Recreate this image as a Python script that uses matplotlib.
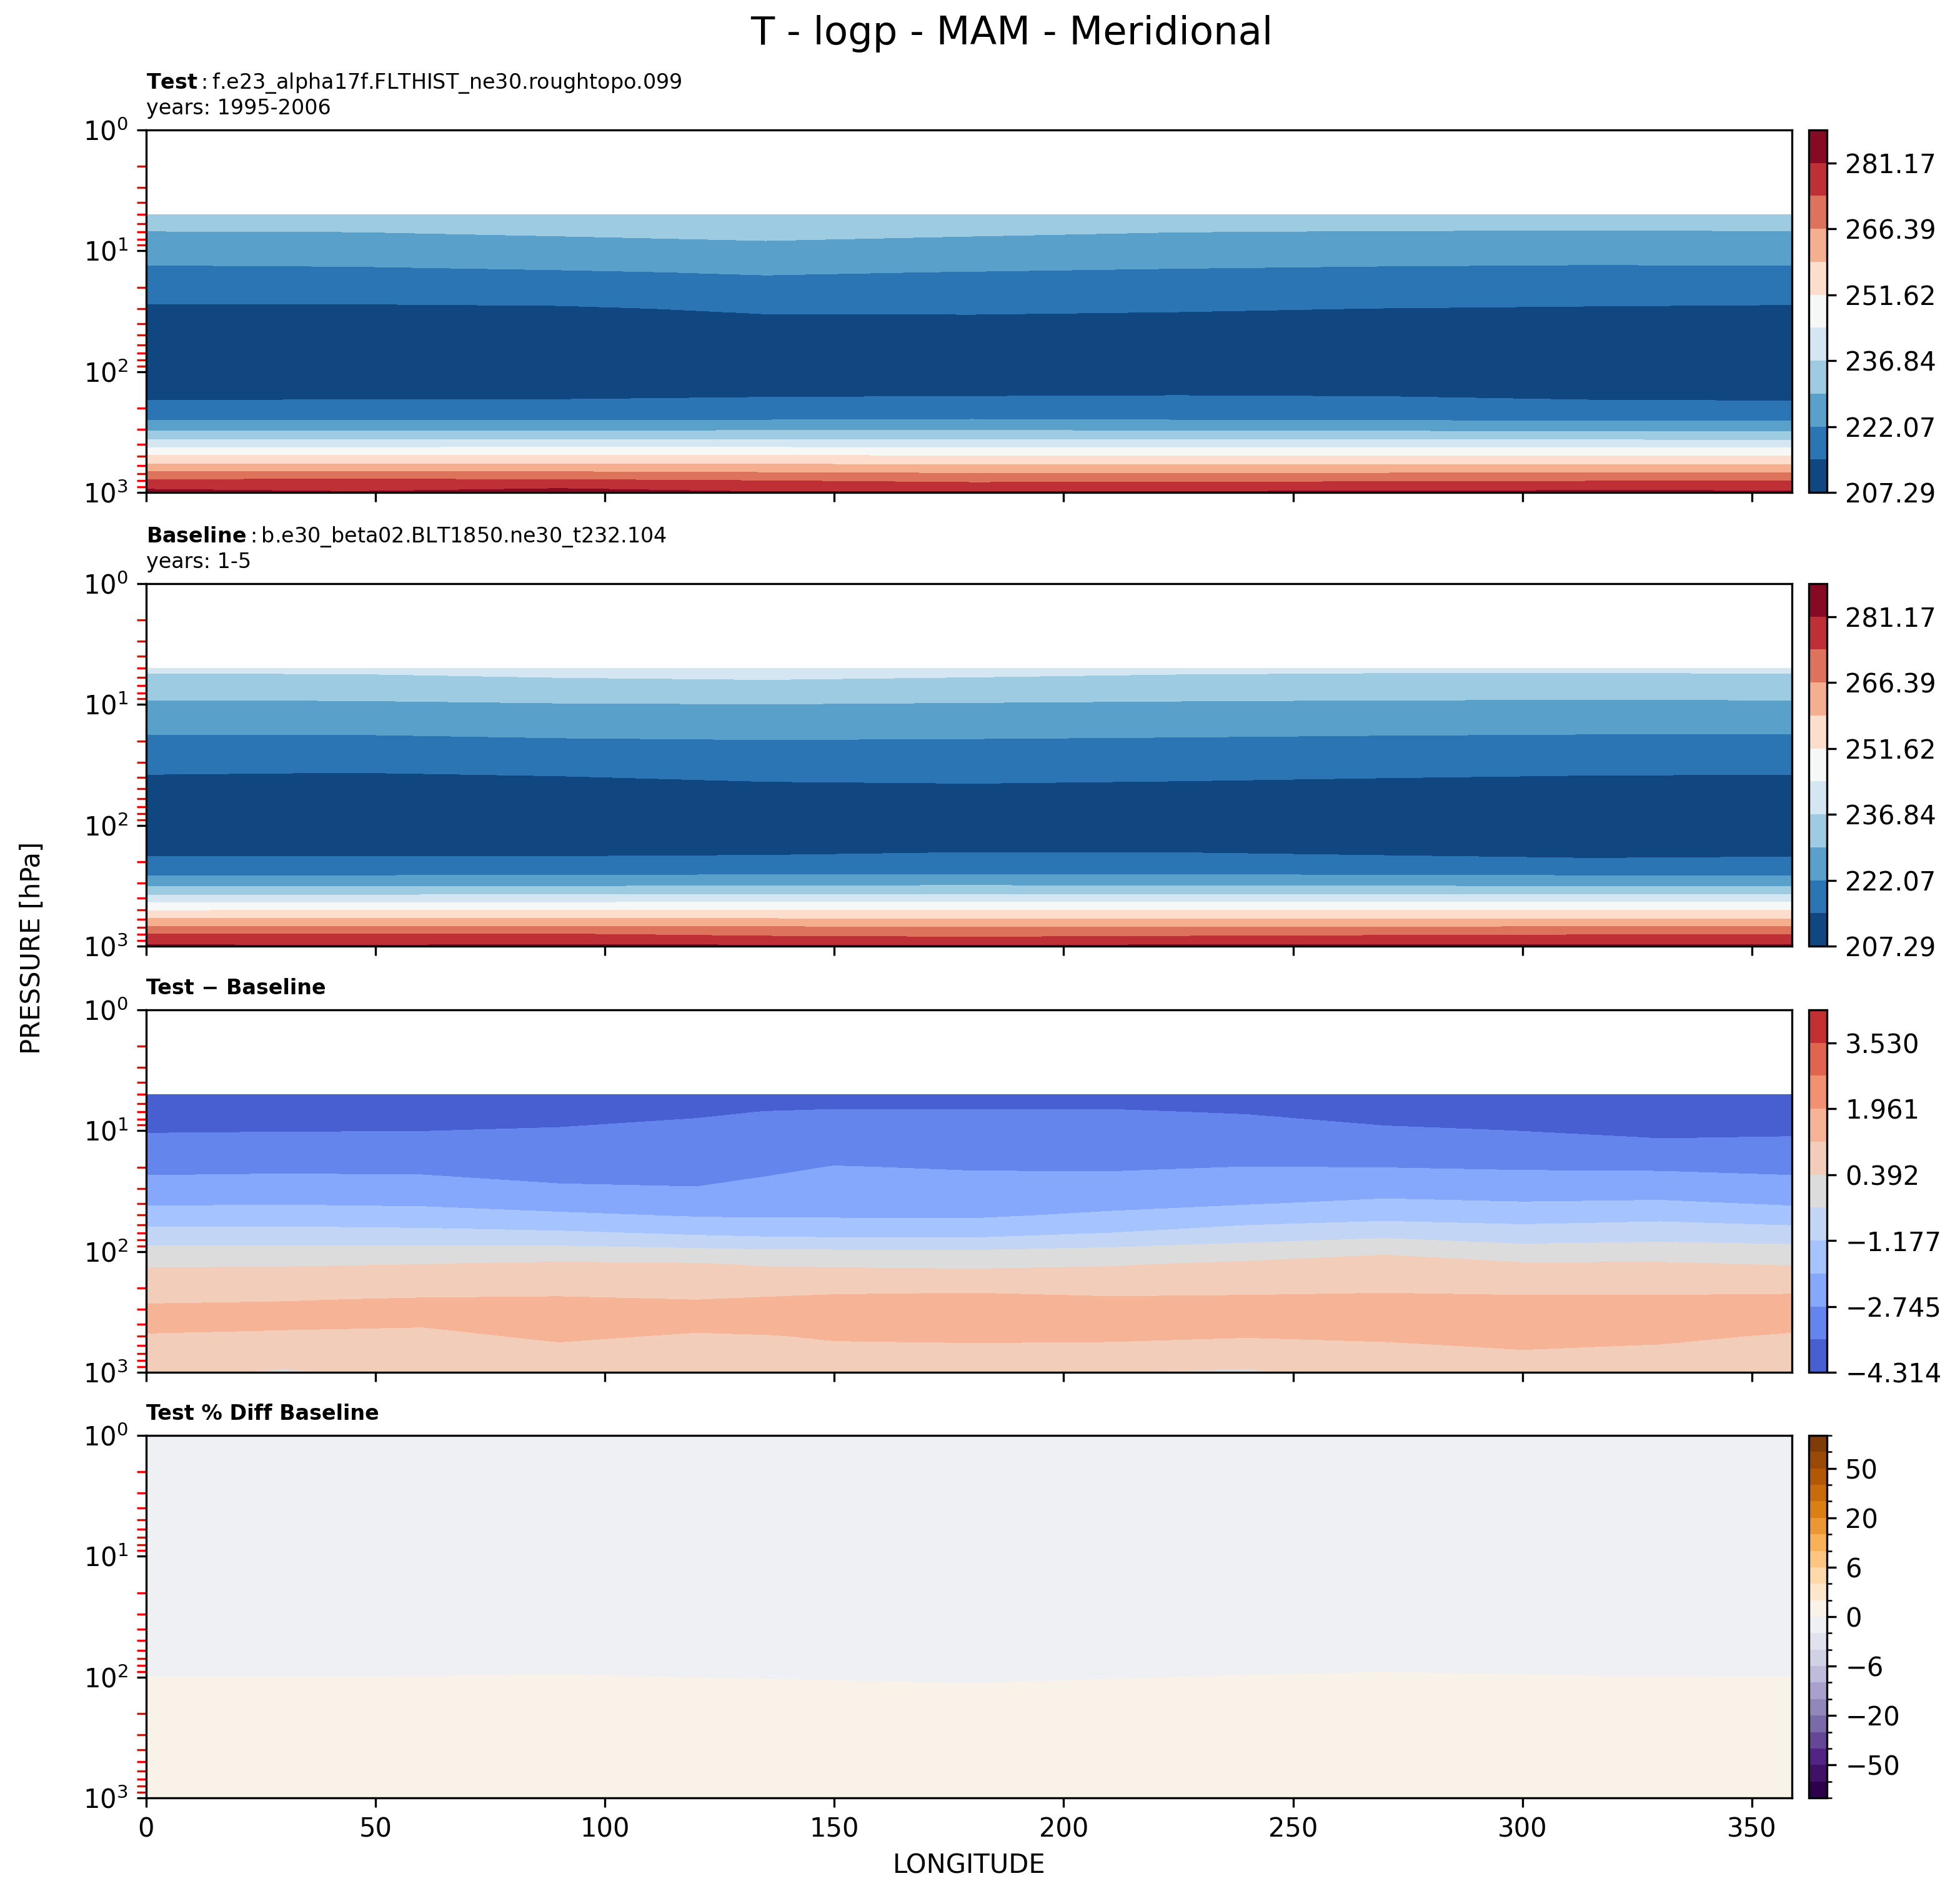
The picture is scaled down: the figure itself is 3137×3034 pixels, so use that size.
import numpy as np
import matplotlib
matplotlib.use("Agg")
import matplotlib.pyplot as plt
from matplotlib.colors import BoundaryNorm
from matplotlib.ticker import LogLocator, NullFormatter

# ---------------- data ----------------
# Temperature fields [K] on pressure levels (hPa) x longitude (deg)
p_t = [5, 7, 10, 15, 20, 30, 50, 70, 100, 150, 200, 250, 300, 350, 400, 450, 500, 600, 700, 800, 900, 1000]
lon_t = [0, 45, 90, 135, 180, 225, 270, 315, 358.75]

# one list per longitude column (values from top level to surface)
test_T_cols = [
    [233.3, 229.2, 224.9, 220.4, 217.65, 213.8, 210.8, 209.5, 209.3, 212.3, 217.5, 221.6, 228.2, 234.9, 241.4, 247.2, 252.4, 260.6, 268.6, 275.0, 280.4, 282.3],
    [233.4, 229.4, 225.2, 220.7, 217.7, 213.7, 210.8, 209.5, 209.3, 212.5, 217.7, 221.7, 228.2, 234.9, 241.4, 247.2, 252.4, 260.6, 268.6, 275.4, 280.2, 281.4],
    [234.1, 230.2, 226.15, 221.5, 218.3, 214.0, 211.0, 209.6, 209.4, 212.6, 217.8, 221.9, 228.3, 235.0, 241.4, 247.3, 252.5, 260.6, 268.5, 275.0, 280.6, 282.6],
    [234.8, 231.1, 227.1, 222.6, 219.6, 215.5, 210.5, 209.2, 209.5, 213.4, 218.3, 221.9, 228.5, 235.1, 241.5, 247.2, 252.3, 260.3, 267.6, 273.8, 279.0, 281.5],
    [233.9, 230.2, 226.3, 221.9, 219.35, 215.7, 210.0, 209.0, 209.3, 213.7, 218.5, 222.2, 228.6, 235.1, 241.3, 246.9, 251.9, 260.0, 266.8, 272.3, 277.8, 281.8],
    [233.2, 229.45, 225.5, 221.2, 218.7, 215.2, 210.0, 208.8, 209.0, 214.0, 218.4, 221.9, 228.3, 235.0, 241.2, 246.8, 251.9, 260.0, 266.9, 272.6, 278.0, 282.0],
    [233.0, 229.1, 224.95, 220.7, 218.2, 214.6, 210.3, 209.0, 209.2, 213.7, 218.2, 221.6, 228.0, 234.8, 241.1, 246.7, 251.9, 260.0, 267.0, 273.0, 278.4, 282.2],
    [233.05, 229.0, 224.7, 220.4, 217.9, 214.2, 210.7, 209.3, 209.2, 212.5, 217.5, 221.4, 227.6, 234.6, 241.0, 246.6, 251.9, 260.0, 267.2, 273.4, 279.0, 282.5],
    [233.1, 229.1, 224.9, 220.5, 217.7, 213.9, 210.8, 209.4, 209.2, 212.1, 217.3, 221.3, 227.45, 234.5, 240.9, 246.6, 251.9, 260.0, 267.3, 273.9, 279.5, 282.0],
]

base_T_cols = [
    [238.2, 233.05, 228.1, 223.6, 220.7, 216.9, 211.3, 209.8, 209.3, 211.3, 216.66, 220.84, 226.6, 233.3, 239.9, 245.9, 250.95, 259.84, 267.6, 274.4, 279.06, 282.0],
    [238.3, 233.2, 228.3, 223.7, 220.7, 216.6, 210.7, 209.6, 209.3, 211.3, 216.66, 220.84, 226.6, 233.3, 239.9, 246.0, 251.05, 259.84, 267.65, 274.5, 279.1, 281.6],
    [239.35, 234.25, 229.0, 224.5, 221.4, 217.3, 211.5, 209.9, 209.4, 211.4, 216.7, 221.0, 226.8, 233.4, 240.0, 246.1, 251.2, 259.8, 267.5, 274.3, 279.0, 282.3],
    [240.05, 234.8, 229.3, 224.9, 221.8, 218.1, 213.0, 210.2, 209.6, 211.8, 217.15, 221.3, 227.37, 233.9, 240.2, 246.15, 251.4, 259.66, 267.07, 272.33, 277.9, 282.0],
    [239.26, 234.07, 228.85, 224.55, 221.6, 218.16, 213.5, 210.2, 209.4, 212.98, 217.8, 221.54, 227.57, 234.0, 240.3, 246.2, 251.52, 259.57, 266.9, 271.6, 276.9, 282.2],
    [238.4, 233.37, 228.45, 224.16, 221.3, 217.8, 213.0, 210.0, 209.3, 212.9, 217.7, 221.4, 227.3, 233.9, 240.3, 246.2, 251.5, 259.57, 266.97, 272.3, 277.75, 282.3],
    [238.05, 232.98, 228.14, 223.78, 220.94, 217.35, 212.26, 209.8, 209.3, 211.76, 217.0, 221.08, 226.98, 233.77, 240.3, 246.2, 251.5, 259.57, 267.0, 272.96, 278.26, 282.3],
    [238.0, 232.92, 228.04, 223.57, 220.69, 216.97, 211.58, 209.7, 209.2, 210.24, 216.18, 220.79, 226.72, 233.64, 240.3, 246.2, 251.5, 259.57, 267.08, 273.48, 278.6, 282.0],
    [238.2, 233.05, 228.1, 223.54, 220.6, 216.85, 211.36, 209.7, 209.2, 211.1, 216.58, 220.82, 226.67, 233.64, 240.3, 246.2, 251.5, 259.57, 267.08, 273.48, 278.6, 282.0],
]

# Test - Baseline [K]
p_d = [5, 7, 10, 15, 20, 30, 40, 50, 70, 100, 125, 150, 200, 250, 300, 350, 400, 450, 500, 600, 700, 800, 900, 1000]
lon_d = [0, 30, 60, 90, 120, 135, 150, 180, 210, 240, 270, 300, 330, 358.75]
diff_cols = [
    [-4.20, -3.905, -3.567, -3.183, -2.911, -2.431, -2.041, -1.631, -0.901, -0.121, 0.280, 0.524, 0.840, 1.085, 1.30, 1.40, 1.38, 1.25, 1.10, 0.95, 0.85, 0.80, 0.75, 0.60],
    [-4.20, -3.893, -3.549, -3.158, -2.880, -2.392, -2.009, -1.611, -0.911, -0.111, 0.305, 0.549, 0.882, 1.141, 1.32, 1.38, 1.30, 1.165, 1.05, 0.92, 0.80, 0.70, 0.45, 0.30],
    [-4.167, -3.858, -3.54, -3.158, -2.893, -2.428, -2.054, -1.674, -0.969, -0.088, 0.362, 0.597, 0.952, 1.22, 1.36, 1.37, 1.24, 1.10, 1.00, 0.88, 0.80, 0.75, 0.70, 0.62],
    [-3.966, -3.730, -3.479, -3.194, -2.992, -2.662, -2.225, -1.853, -1.082, -0.036, 0.444, 0.653, 0.983, 1.25, 1.40, 1.48, 1.48, 1.42, 1.30, 1.10, 0.95, 0.85, 0.75, 0.65],
    [-3.792, -3.594, -3.383, -3.144, -2.974, -2.722, -2.330, -2.026, -1.303, -0.173, 0.401, 0.603, 0.921, 1.168, 1.32, 1.40, 1.35, 1.22, 1.10, 0.95, 0.85, 0.80, 0.70, 0.60],
    [-3.728, -3.521, -3.302, -3.052, -2.875, -2.554, -2.272, -2.053, -1.387, -0.264, 0.295, 0.582, 0.963, 1.24, 1.36, 1.42, 1.40, 1.28, 1.14, 1.00, 0.90, 0.82, 0.72, 0.60],
    [-3.731, -3.487, -3.229, -2.935, -2.726, -2.425, -2.211, -2.045, -1.432, -0.272, 0.248, 0.579, 1.028, 1.30, 1.38, 1.45, 1.45, 1.35, 1.25, 1.10, 0.95, 0.85, 0.75, 0.62],
    [-3.715, -3.491, -3.254, -2.985, -2.793, -2.477, -2.245, -2.066, -1.447, -0.304, 0.179, 0.544, 1.071, 1.33, 1.45, 1.50, 1.50, 1.42, 1.30, 1.12, 0.95, 0.85, 0.72, 0.50],
    [-3.71, -3.492, -3.261, -2.999, -2.813, -2.435, -2.139, -1.861, -1.19, -0.140, 0.300, 0.584, 0.991, 1.25, 1.40, 1.47, 1.47, 1.40, 1.28, 1.10, 0.92, 0.82, 0.60, 0.40],
    [-3.826, -3.563, -3.284, -2.967, -2.740, -2.314, -2.011, -1.595, -0.819, 0.040, 0.473, 0.696, 1.048, 1.26, 1.38, 1.42, 1.40, 1.30, 1.20, 1.05, 0.90, 0.75, 0.45, 0.30],
    [-4.097, -3.772, -3.428, -3.037, -2.759, -2.234, -1.819, -1.414, -0.641, 0.313, 0.595, 0.786, 1.087, 1.30, 1.42, 1.47, 1.47, 1.40, 1.28, 1.10, 0.95, 0.85, 0.75, 0.70],
    [-4.249, -3.900, -3.54, -3.109, -2.811, -2.300, -1.915, -1.508, -0.830, -0.039, 0.423, 0.659, 1.031, 1.27, 1.40, 1.48, 1.50, 1.47, 1.40, 1.25, 1.10, 0.95, 0.82, 0.70],
    [-4.28, -4.134, -3.692, -3.190, -2.834, -2.286, -1.857, -1.405, -0.718, 0.008, 0.433, 0.666, 1.033, 1.27, 1.40, 1.48, 1.48, 1.42, 1.32, 1.15, 1.00, 0.90, 0.80, 0.70],
    [-4.27, -3.997, -3.629, -3.209, -2.912, -2.423, -2.043, -1.611, -0.826, -0.072, 0.312, 0.603, 1.050, 1.30, 1.38, 1.40, 1.34, 1.22, 1.10, 0.95, 0.85, 0.80, 0.75, 0.65],
]

# Test % Diff Baseline [%]
p_pct = [1, 5, 10, 30, 70, 90, 110, 130, 200, 400, 700, 1000]
lon_pct = [0, 45, 90, 135, 180, 225, 270, 315, 358.75]
pct_cols = [
    [-1.6, -1.75, -1.55, -1.05, -0.351, -0.117, 0.117, 0.351, 0.45, 0.6, 0.35, 0.25],
    [-1.6, -1.75, -1.55, -1.05, -0.351, -0.117, 0.117, 0.351, 0.45, 0.6, 0.35, 0.25],
    [-1.6, -1.75, -1.55, -1.05, -0.304, -0.070, 0.164, 0.398, 0.45, 0.6, 0.35, 0.25],
    [-1.6, -1.75, -1.55, -1.05, -0.398, -0.164, 0.070, 0.304, 0.45, 0.6, 0.35, 0.25],
    [-1.6, -1.75, -1.55, -1.05, -0.503, -0.269, -0.035, 0.199, 0.45, 0.6, 0.35, 0.25],
    [-1.6, -1.75, -1.55, -1.05, -0.351, -0.117, 0.117, 0.351, 0.45, 0.6, 0.35, 0.25],
    [-1.6, -1.75, -1.55, -1.05, -0.246, -0.012, 0.222, 0.456, 0.45, 0.6, 0.35, 0.25],
    [-1.6, -1.75, -1.55, -1.05, -0.328, -0.094, 0.140, 0.374, 0.45, 0.6, 0.35, 0.25],
    [-1.6, -1.75, -1.55, -1.05, -0.351, -0.117, 0.117, 0.351, 0.45, 0.6, 0.35, 0.25],
]

T_levels = np.linspace(207.290, 288.558, 12)
diff_levels = np.linspace(-4.314, 4.314, 12)
pct_levels = [-100, -75, -50, -40, -30, -20, -10, -8, -6, -4, -2, 0, 2, 4, 6, 8, 10, 20, 30, 40, 50, 75, 100]
pct_major = [-50, -20, -6, 0, 6, 20, 50]

title_test = r"$\mathbf{Test}:$f.e23_alpha17f.FLTHIST_ne30.roughtopo.099" + "\nyears: 1995-2006"
title_base = r"$\mathbf{Baseline}:$b.e30_beta02.BLT1850.ne30_t232.104" + "\nyears: 1-5"
title_diff = "Test \u2212 Baseline"
title_pct = "Test % Diff Baseline"
suptitle = "T - logp - MAM - Meridional"

# ---------------- figure ----------------
W, H, DPI = 3137, 3034, 300
fig = plt.figure(figsize=(W / DPI, H / DPI), dpi=DPI)

X0, X1 = 234, 2868
CB0, CB1 = 2895, 2924
panels = [(208, 788), (934, 1514), (1616, 2196), (2297, 2877)]


def make_axes(top, bot):
    ax = fig.add_axes([X0 / W, 1 - bot / H, (X1 - X0) / W, (bot - top) / H])
    cax = fig.add_axes([CB0 / W, 1 - bot / H, (CB1 - CB0) / W, (bot - top) / H])
    return ax, cax


def style_axes(ax, last):
    ax.set_yscale("log")
    ax.set_ylim(1000, 1)
    ax.set_xlim(0, 358.75)
    ax.yaxis.set_major_locator(LogLocator(base=10, numticks=10))
    ax.yaxis.set_minor_locator(LogLocator(base=10, subs=np.arange(2, 10), numticks=20))
    ax.yaxis.set_minor_formatter(NullFormatter())
    ax.set_xticks(np.arange(0, 351, 50))
    ax.tick_params(axis="y", which="minor", color="red", length=3.5, width=0.8)
    ax.tick_params(axis="both", which="major", labelsize=10, length=3.5)
    if not last:
        ax.tick_params(axis="x", labelbottom=False)


def fmt(v, nd):
    return f"{v:.{nd}f}".replace("-", "\u2212")


# Panel 1 & 2: test / baseline
for (top, bot), cols, ttl in zip(panels[:2], [test_T_cols, base_T_cols], [title_test, title_base]):
    ax, cax = make_axes(top, bot)
    Z = np.array(cols).T
    cf = ax.contourf(lon_t, p_t, Z, levels=T_levels, cmap="RdBu_r")
    style_axes(ax, False)
    ax.set_title(ttl, loc="left", fontsize=8)
    cb = fig.colorbar(cf, cax=cax, ticks=T_levels[:-1:2])
    cb.ax.set_yticklabels([fmt(v, 2) for v in T_levels[:-1:2]])
    cb.ax.tick_params(labelsize=10)

# Panel 3: difference
top, bot = panels[2]
ax, cax = make_axes(top, bot)
Zd = np.array(diff_cols).T
cf = ax.contourf(lon_d, p_d, Zd, levels=diff_levels, cmap="coolwarm")
style_axes(ax, False)
ax.set_title(title_diff, loc="left", fontsize=8, fontweight="bold")
cb = fig.colorbar(cf, cax=cax, ticks=diff_levels[:-1:2])
cb.ax.set_yticklabels([fmt(v, 3) for v in diff_levels[:-1:2]])
cb.ax.tick_params(labelsize=10)

# Panel 4: percent difference
top, bot = panels[3]
ax, cax = make_axes(top, bot)
Zp = np.array(pct_cols).T
norm = BoundaryNorm(pct_levels, ncolors=256)
cf = ax.contourf(lon_pct, p_pct, Zp, levels=pct_levels, cmap="PuOr_r", norm=norm)
style_axes(ax, True)
ax.set_title(title_pct, loc="left", fontsize=8, fontweight="bold")
ax.set_xlabel("LONGITUDE", fontsize=10)
cb = fig.colorbar(cf, cax=cax, ticks=pct_major)
cb.ax.set_yticklabels([fmt(v, 0) for v in pct_major])
cb.ax.yaxis.set_ticks(pct_levels, minor=True)
cb.ax.tick_params(labelsize=10)

fig.text(52 / W, 0.5, "PRESSURE [hPa]", rotation=90, ha="center", va="center", fontsize=10)
fig.text(1619 / W, 1 - 54 / H, suptitle, ha="center", va="center", fontsize=15)

fig.savefig("out.png", dpi=DPI)
